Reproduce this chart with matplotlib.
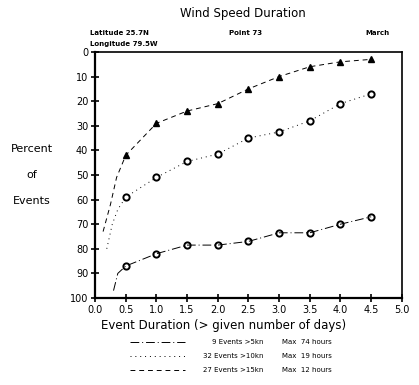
import matplotlib
matplotlib.use("Agg")
import matplotlib.pyplot as plt

# Dias (eixo x) e percentuais
days = [0.5, 1.0, 1.5, 2.0, 2.5, 3.0, 3.5, 4.0, 4.5]
pct_15kn = [42, 29, 24, 21, 15, 10, 6, 4, 3]
pct_10kn = [59, 51, 44.5, 41.5, 35, 32.5, 28, 21, 17]
pct_5kn = [87, 82, 78.5, 78.5, 77, 73.5, 73.5, 70, 67]

# Trechos iniciais das curvas (antes do primeiro marcador)
lead_x_15kn = [0.13, 0.25, 0.35]
lead_y_15kn = [73, 62, 51]
lead_x_10kn = [0.19, 0.28, 0.37]
lead_y_10kn = [80, 70, 64]
lead_x_5kn = [0.30, 0.37]
lead_y_5kn = [97, 90]

legend_left = ["9 Events >5kn", "32 Events >10kn", "27 Events >15kn"]
legend_right = ["Max  74 hours", "Max  19 hours", "Max  12 hours"]
legend_styles = [(0, (9, 3, 1, 3)), (0, (1, 4)), (0, (5, 4))]

y_ticks = list(range(0, 101, 10))
x_ticks = [0.0, 0.5, 1.0, 1.5, 2.0, 2.5, 3.0, 3.5, 4.0, 4.5, 5.0]

plt.rcParams["font.family"] = "DejaVu Sans"

fig = plt.figure(figsize=(4.19, 3.85), dpi=100)
ax = fig.add_axes([0.227, 0.226, 0.732, 0.639])

# curva 5kn (traco-ponto, circulos cortados)
ax.plot(lead_x_5kn + days, lead_y_5kn + pct_5kn, color="black", lw=0.7,
        linestyle=legend_styles[0])
ax.plot(days, pct_5kn, linestyle="none", marker="o", ms=4.5, mfc="none",
        mec="black", mew=1.4)
# curva 10kn (pontilhada, circulos abertos)
ax.plot(lead_x_10kn + days, lead_y_10kn + pct_10kn, color="black", lw=0.7,
        linestyle=legend_styles[1])
ax.plot(days, pct_10kn, linestyle="none", marker="o", ms=4.5, mfc="white",
        mec="black", mew=1.4)
# curva 15kn (tracejada, triangulos)
ax.plot(lead_x_15kn + days, lead_y_15kn + pct_15kn, color="black", lw=0.7,
        linestyle=legend_styles[2])
ax.plot(days, pct_15kn, linestyle="none", marker="^", ms=4.5, color="black")

ax.set_xlim(0, 5.0)
ax.set_ylim(100, 0)
ax.set_xticks(x_ticks)
ax.set_xticklabels([f"{v:.1f}" for v in x_ticks])
ax.set_yticks(y_ticks)
ax.tick_params(direction="inout", length=6, width=1.2, labelsize=7, pad=2)
for side in ["left", "bottom"]:
    ax.spines[side].set_linewidth(1.6)
for side in ["top", "right"]:
    ax.spines[side].set_linewidth(1.2)

ax.set_xlabel("Event Duration (> given number of days)", fontsize=8.5)
ax.xaxis.set_label_coords(0.42, -0.085)
ax.set_ylabel("Percent\n\nof\n\nEvents", rotation=0, fontsize=8,
              ha="center", va="center", linespacing=1.35)
ax.yaxis.set_label_coords(-0.205, 0.5)

# Cabecalho
fig.text(0.58, 0.966, "Wind Speed Duration", ha="center", va="center", fontsize=8.5)
fig.text(0.215, 0.914, "Latitude 25.7N", ha="left", va="center", fontsize=5,
         fontweight="bold")
fig.text(0.215, 0.885, "Longitude 79.5W", ha="left", va="center", fontsize=5,
         fontweight="bold")
fig.text(0.585, 0.914, "Point 73", ha="center", va="center", fontsize=5,
         fontweight="bold")
fig.text(0.93, 0.914, "March", ha="right", va="center", fontsize=5,
         fontweight="bold")

# Legenda desenhada em eixo proprio
lax = fig.add_axes([0.31, 0.02, 0.55, 0.11])
lax.set_xlim(0, 10)
lax.set_ylim(2.5, -0.5)
lax.axis("off")
for i in range(3):
    lax.plot([0, 2.4], [i, i], color="black", lw=0.7, linestyle=legend_styles[i])
    lax.text(5.8, i, legend_left[i], ha="right", va="center", fontsize=5)
    lax.text(6.6, i, legend_right[i], ha="left", va="center", fontsize=5)

plt.savefig("out.png", dpi=100)
